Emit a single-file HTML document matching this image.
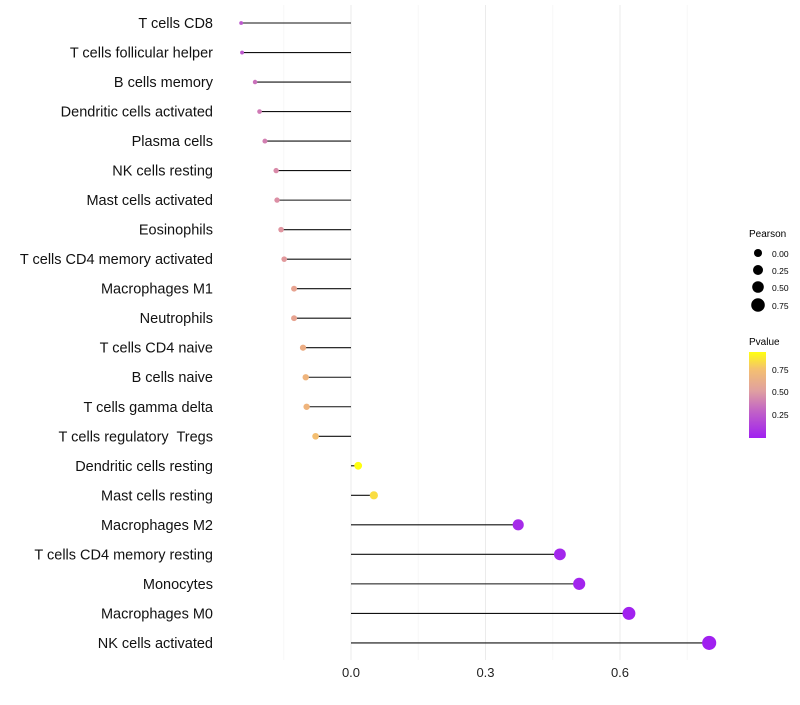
<!DOCTYPE html>
<html><head><meta charset="utf-8"><style>
body{margin:0;background:#fff;}
svg text{font-family:"Liberation Sans",sans-serif;white-space:pre;}
</style></head><body>
<svg id="chart" width="800" height="700" xmlns="http://www.w3.org/2000/svg">
<defs><linearGradient id="pgrad" x1="0" y1="1" x2="0" y2="0">
<stop offset="0" stop-color="#a020f0"/><stop offset="0.3" stop-color="#c060c8"/><stop offset="0.55" stop-color="#e0a0a0"/><stop offset="0.8" stop-color="#f4c070"/><stop offset="1" stop-color="#ffff10"/></linearGradient></defs>
<g id="grid"></g><g id="marks"></g><g id="labels"></g>
<g>
<text x="749" y="237" font-size="10">Pearson</text>
<circle cx="758" cy="253" r="4"/><text x="772" y="257" font-size="8.5">0.00</text>
<circle cx="758" cy="270" r="5"/><text x="772" y="274" font-size="8.5">0.25</text>
<circle cx="758" cy="287" r="5.8"/><text x="772" y="291" font-size="8.5">0.50</text>
<circle cx="758" cy="305" r="6.8"/><text x="772" y="309" font-size="8.5">0.75</text>
</g>
<g>
<text x="749" y="345" font-size="10">Pvalue</text>
<rect x="749" y="352" width="17" height="86" fill="url(#pgrad)"/>
<text x="772" y="373" font-size="8.5">0.75</text>
<text x="772" y="395" font-size="8.5">0.50</text>
<text x="772" y="418" font-size="8.5">0.25</text>
</g>
</svg>
<script>
const cells=["T cells CD8","T cells follicular helper","B cells memory","Dendritic cells activated","Plasma cells","NK cells resting","Mast cells activated","Eosinophils","T cells CD4 memory activated","Macrophages M1","Neutrophils","T cells CD4 naive","B cells naive","T cells gamma delta","T cells regulatory  Tregs","Dendritic cells resting","Mast cells resting","Macrophages M2","T cells CD4 memory resting","Monocytes","Macrophages M0","NK cells activated"];
const pearson=[-0.245,-0.243,-0.214,-0.204,-0.192,-0.167,-0.165,-0.156,-0.149,-0.127,-0.127,-0.107,-0.101,-0.099,-0.079,0.016,0.051,0.373,0.466,0.509,0.620,0.799];
const pvalue=[0.25,0.25,0.36,0.4,0.42,0.47,0.49,0.52,0.54,0.6,0.6,0.66,0.7,0.7,0.76,0.95,0.85,0.05,0.03,0.02,0.01,0.001];
const xticks=[0.0,0.3,0.6];
const minorTicks=[-0.15,0.15,0.45,0.75];
const NS="http://www.w3.org/2000/svg";
const xs=v=>351+v*448.3;
const ys=i=>23+i*29.52;
const rs=v=>Math.sqrt(Math.max(2.2,14.5+44*v));
function col(p){const st=[[0,[160,32,240]],[0.3,[192,96,200]],[0.55,[224,150,160]],[0.8,[244,190,112]],[1,[255,255,16]]];
 let t=Math.min(1,Math.max(0,p/0.95));
 for(let k=1;k<st.length;k++){if(t<=st[k][0]){const a=st[k-1],b=st[k];const f=(t-a[0])/(b[0]-a[0]);
 return "rgb("+a[1].map((c,j)=>Math.round(c+(b[1][j]-c)*f)).join(",")+")";}}return "rgb(255,255,16)";}
function mk(tag,at,parent){const e=document.createElementNS(NS,tag);for(const k in at)e.setAttribute(k,at[k]);document.getElementById(parent).appendChild(e);return e;}
minorTicks.forEach(v=>{const l=mk("line",{x1:xs(v),x2:xs(v),y1:5,y2:660,stroke:"#f7f7f7","stroke-width":1},"grid");

});
xticks.forEach(v=>{const l=mk("line",{x1:xs(v),x2:xs(v),y1:5,y2:660,stroke:"#ebebeb","stroke-width":1},"grid");


const t=mk("text",{x:xs(v),y:677,"text-anchor":"middle","font-size":13,fill:"#222"},"labels");t.textContent=v.toFixed(1);

});
cells.forEach((c,i)=>{const y=ys(i);
const l=mk("line",{x1:xs(0),x2:xs(pearson[i]),y1:y,y2:y,stroke:"#111","stroke-width":1.1},"marks");


const d=mk("circle",{cx:xs(pearson[i]),cy:y,r:rs(pearson[i]),fill:col(pvalue[i])},"marks");


const t=mk("text",{x:213,y:y+5,"text-anchor":"end","font-size":14.5,fill:"#111"},"labels");t.textContent=c;

});
</script>
</body></html>
